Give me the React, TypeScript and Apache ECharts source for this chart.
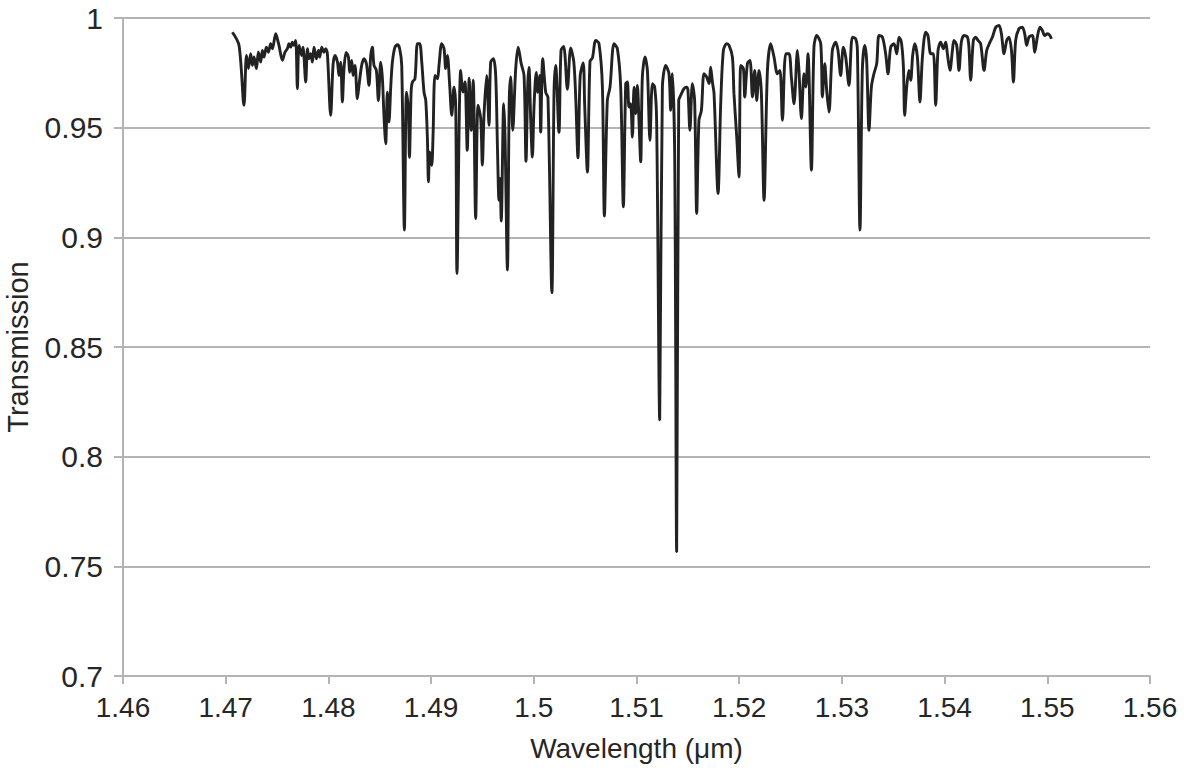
import React, { useEffect, useRef } from "react";
import * as echarts from "echarts";

// Wavelength (µm) sample positions
const wavelength: number[] = [
  1.47065, 1.4713, 1.47178, 1.47202, 1.47221, 1.47243, 1.4726, 1.47276, 1.47299, 1.47318,
  1.47341, 1.47357, 1.47373, 1.47396, 1.47416, 1.47438, 1.47455, 1.47487, 1.47503, 1.47519,
  1.47552, 1.47577, 1.47601, 1.47616, 1.47633, 1.47649, 1.47665, 1.47682, 1.47698, 1.47714,
  1.4774, 1.47753, 1.47779, 1.47796, 1.47811, 1.47828, 1.47844, 1.4786, 1.47883, 1.47903,
  1.47915, 1.47935, 1.47957, 1.47974, 1.4799, 1.48022, 1.48045, 1.48064, 1.48088, 1.48103,
  1.4812, 1.48136, 1.48152, 1.48173, 1.48195, 1.48207, 1.48227, 1.4824, 1.48259, 1.48282,
  1.48298, 1.48324, 1.48347, 1.4837, 1.48395, 1.48412, 1.48428, 1.48444, 1.48467, 1.48487,
  1.48509, 1.48526, 1.48541, 1.48558, 1.48574, 1.4859, 1.48607, 1.48623, 1.48648, 1.48672,
  1.48694, 1.48714, 1.4874, 1.4876, 1.48779, 1.48789, 1.48806, 1.48818, 1.48843, 1.48867,
  1.48889, 1.48909, 1.48931, 1.48948, 1.48964, 1.48974, 1.48987, 1.49006, 1.49019, 1.49038,
  1.49062, 1.49077, 1.49103, 1.49126, 1.49142, 1.49159, 1.49181, 1.49201, 1.49223, 1.4924,
  1.49252, 1.49288, 1.49311, 1.4933, 1.49352, 1.49371, 1.49391, 1.4941, 1.49434, 1.49457,
  1.49483, 1.49499, 1.49515, 1.49541, 1.49564, 1.4958, 1.49607, 1.49629, 1.49646, 1.49661,
  1.49671, 1.49683, 1.49707, 1.4972, 1.49743, 1.49761, 1.49775, 1.49795, 1.49824, 1.49848,
  1.49877, 1.49905, 1.49924, 1.49941, 1.49953, 1.4997, 1.49986, 1.50002, 1.50023, 1.50038,
  1.50057, 1.50067, 1.50087, 1.50116, 1.50138, 1.50176, 1.50197, 1.50213, 1.50245, 1.50265,
  1.50291, 1.50327, 1.50359, 1.50389, 1.50408, 1.5043, 1.50452, 1.50481, 1.50495, 1.50522,
  1.50547, 1.50571, 1.50603, 1.50635, 1.50668, 1.50687, 1.50716, 1.50742, 1.50781, 1.50814,
  1.50846, 1.50872, 1.50895, 1.50911, 1.50927, 1.50943, 1.5096, 1.50976, 1.50992, 1.51009,
  1.51024, 1.51041, 1.51057, 1.51083, 1.51106, 1.51131, 1.51155, 1.51177, 1.51196, 1.51226,
  1.51252, 1.51284, 1.51316, 1.51333, 1.51349, 1.51372, 1.51391, 1.51411, 1.5143, 1.51462,
  1.51488, 1.51501, 1.5152, 1.51544, 1.51566, 1.51586, 1.51608, 1.51632, 1.51657, 1.51683,
  1.51706, 1.51722, 1.51739, 1.51755, 1.51794, 1.5182, 1.51846, 1.51878, 1.51901, 1.51934,
  1.51949, 1.51976, 1.51998, 1.52015, 1.52041, 1.52054, 1.5208, 1.52105, 1.52129, 1.52151,
  1.52171, 1.52193, 1.52216, 1.52242, 1.52275, 1.52307, 1.52339, 1.52372, 1.52397, 1.52421,
  1.52453, 1.52485, 1.52508, 1.52534, 1.52567, 1.52582, 1.52606, 1.52631, 1.52648, 1.5267,
  1.52703, 1.52728, 1.52755, 1.52794, 1.5281, 1.52833, 1.52852, 1.52874, 1.52907, 1.52939,
  1.52962, 1.52988, 1.53014, 1.53037, 1.53069, 1.53102, 1.53134, 1.53151, 1.53176, 1.53199,
  1.53222, 1.53241, 1.53264, 1.53287, 1.53312, 1.53339, 1.53361, 1.53394, 1.53426, 1.53449,
  1.53475, 1.53507, 1.53534, 1.53556, 1.53579, 1.53599, 1.53611, 1.53631, 1.53653, 1.5367,
  1.53689, 1.53709, 1.53735, 1.5376, 1.53784, 1.53816, 1.53838, 1.53865, 1.53891, 1.53913,
  1.53936, 1.53962, 1.53988, 1.54011, 1.54027, 1.54052, 1.54076, 1.54091, 1.54118, 1.5414,
  1.54163, 1.54189, 1.54222, 1.54237, 1.54254, 1.5428, 1.54303, 1.54325, 1.54351, 1.54384,
  1.5441, 1.54442, 1.54466, 1.54498, 1.5453, 1.54553, 1.54579, 1.54605, 1.54627, 1.54651,
  1.5467, 1.54692, 1.54724, 1.54757, 1.5478, 1.54799, 1.54822, 1.54855, 1.54877, 1.54903,
  1.54929, 1.54952, 1.54975, 1.55001, 1.55026, 1.5504,
];

// Transmission values at those wavelengths
const transmission: number[] = [
  0.9935, 0.9875, 0.9602, 0.9829, 0.977, 0.9837, 0.9784, 0.9822, 0.9769, 0.9844,
  0.9799, 0.9852, 0.9822, 0.9867, 0.9844, 0.9883, 0.986, 0.9928, 0.9905, 0.9875,
  0.9807, 0.9844, 0.986, 0.9883, 0.9867, 0.989, 0.9875, 0.9898, 0.9678, 0.9875,
  0.9829, 0.9867, 0.9708, 0.986, 0.9814, 0.9837, 0.9799, 0.9867, 0.9814, 0.9852,
  0.9822, 0.9867, 0.9844, 0.986, 0.9837, 0.9556, 0.9784, 0.9829, 0.9799, 0.9738,
  0.9799, 0.9617, 0.9769, 0.9843, 0.9822, 0.9753, 0.9807, 0.9738, 0.9784, 0.9632,
  0.9693, 0.9784, 0.9814, 0.9791, 0.9693, 0.9829, 0.9867, 0.9784, 0.9761, 0.9624,
  0.9799, 0.9723, 0.9556, 0.9427, 0.9662, 0.9526, 0.9685, 0.9799, 0.9867, 0.9878,
  0.986, 0.9784, 0.9033, 0.9662, 0.9571, 0.9365, 0.967, 0.9708, 0.9723, 0.9883,
  0.9883, 0.9799, 0.9662, 0.9624, 0.945, 0.9253, 0.9389, 0.9328, 0.9465, 0.9738,
  0.9723, 0.9784, 0.9883, 0.986, 0.9769, 0.9829, 0.9693, 0.9556, 0.9685, 0.9587,
  0.8835, 0.9761, 0.9662, 0.9708, 0.9397, 0.9725, 0.9488, 0.9716, 0.9086, 0.9602,
  0.9543, 0.9329, 0.9556, 0.9738, 0.9511, 0.9798, 0.9814, 0.9738, 0.9412, 0.9169,
  0.9269, 0.9074, 0.9609, 0.9457, 0.8851, 0.9625, 0.9731, 0.9488, 0.977, 0.9867,
  0.9793, 0.9738, 0.9347, 0.9693, 0.9775, 0.9534, 0.9366, 0.9594, 0.9752, 0.9661,
  0.9738, 0.948, 0.9814, 0.9661, 0.9638, 0.8748, 0.9662, 0.9784, 0.9479, 0.9852,
  0.987, 0.9675, 0.9863, 0.9802, 0.964, 0.9363, 0.9738, 0.9795, 0.9609, 0.9298,
  0.9802, 0.9818, 0.9898, 0.9883, 0.9685, 0.9097, 0.9624, 0.9685, 0.9883, 0.986,
  0.9685, 0.9139, 0.9701, 0.9708, 0.9594, 0.9609, 0.9457, 0.9685, 0.9564, 0.9693,
  0.9534, 0.9344, 0.9731, 0.9822, 0.9761, 0.9442, 0.97, 0.9685, 0.9534, 0.8168,
  0.9685, 0.9784, 0.9746, 0.9579, 0.9746, 0.9366, 0.7567, 0.9624, 0.9647, 0.9678,
  0.9685, 0.967, 0.9488, 0.9701, 0.9624, 0.9109, 0.9534, 0.9579, 0.9746, 0.9731,
  0.9701, 0.9776, 0.9708, 0.9655, 0.92, 0.9609, 0.9852, 0.9883, 0.9875, 0.9822,
  0.9655, 0.9457, 0.9275, 0.9784, 0.9769, 0.964, 0.9792, 0.9807, 0.964, 0.9761,
  0.9624, 0.9761, 0.9655, 0.9169, 0.9761, 0.9883, 0.9822, 0.9746, 0.9761, 0.9534,
  0.9837, 0.9837, 0.9731, 0.9609, 0.9852, 0.9761, 0.9541, 0.9746, 0.9685, 0.9837,
  0.9306, 0.9867, 0.992, 0.9883, 0.964, 0.9792, 0.967, 0.9571, 0.9852, 0.989,
  0.9852, 0.9738, 0.9867, 0.9822, 0.9693, 0.9913, 0.9905, 0.9852, 0.9033, 0.9761,
  0.9875, 0.9807, 0.9488, 0.9685, 0.9746, 0.9792, 0.992, 0.9913, 0.9837, 0.9746,
  0.9867, 0.9883, 0.9837, 0.9913, 0.989, 0.9776, 0.9556, 0.9685, 0.9761, 0.9716,
  0.9829, 0.9883, 0.9822, 0.9617, 0.9822, 0.9935, 0.992, 0.9837, 0.9837, 0.9602,
  0.9852, 0.989, 0.986, 0.989, 0.9837, 0.9761, 0.9852, 0.9898, 0.9875, 0.9761,
  0.989, 0.992, 0.9913, 0.9867, 0.9716, 0.9898, 0.9913, 0.9898, 0.9883, 0.9761,
  0.9852, 0.989, 0.9913, 0.9958, 0.9966, 0.9928, 0.9837, 0.9898, 0.9913, 0.9852,
  0.9708, 0.9898, 0.9951, 0.9958, 0.9928, 0.9875, 0.9913, 0.992, 0.9844, 0.9913,
  0.9958, 0.9943, 0.992, 0.9928, 0.992, 0.9905,
];

const xTicks = { min: 1.46, max: 1.56, step: 0.01 };
const yTicks = { min: 0.7, max: 1, step: 0.05 };

const FONT = "'Liberation Sans', Arial, Helvetica, sans-serif";

export default function App() {
  const ref = useRef<HTMLDivElement>(null);

  useEffect(() => {
    if (!ref.current) return;
    const chart = echarts.init(ref.current, undefined, { renderer: "svg" });
    const points = wavelength.map((w, i) => [w, transmission[i]]);
    chart.setOption({
      animation: false,
      backgroundColor: "#ffffff",
      grid: {
        left: 123,
        right: 34,
        top: 18,
        bottom: 96,
        containLabel: false,
        outerBoundsMode: "none",
      },
      xAxis: {
        type: "value",
        min: xTicks.min,
        max: xTicks.max,
        interval: xTicks.step,
        name: "Wavelength (μm)",
        nameLocation: "middle",
        nameGap: 58,
        nameTextStyle: { fontFamily: FONT, fontSize: 28, color: "#262626" },
        axisLine: { show: true, lineStyle: { color: "#b4b4b4", width: 2 } },
        axisTick: { show: true, length: 8, lineStyle: { color: "#b4b4b4", width: 2 } },
        axisLabel: {
          fontFamily: FONT,
          fontSize: 28,
          color: "#262626",
          margin: 17,
          formatter: (v: number) => String(parseFloat(v.toFixed(2))),
        },
        splitLine: { show: false },
      },
      yAxis: {
        type: "value",
        min: yTicks.min,
        max: yTicks.max,
        interval: yTicks.step,
        name: "Transmission",
        nameLocation: "middle",
        nameGap: 91,
        nameTextStyle: { fontFamily: FONT, fontSize: 29, color: "#262626" },
        axisLine: { show: true, lineStyle: { color: "#b4b4b4", width: 2 } },
        axisTick: { show: true, length: 9, lineStyle: { color: "#b4b4b4", width: 2 } },
        axisLabel: {
          fontFamily: FONT,
          fontSize: 30,
          color: "#262626",
          margin: 20,
          formatter: (v: number) => String(parseFloat(v.toFixed(2))),
        },
        splitLine: { show: true, lineStyle: { color: "#b4b4b4", width: 2 } },
      },
      series: [
        {
          type: "line",
          data: points,
          showSymbol: false,
          symbol: "none",
          smooth: 0.3,
          lineStyle: { color: "#222222", width: 2.9 },
        },
      ],
    });
    return () => chart.dispose();
  }, []);

  return (
    <div
      ref={ref}
      style={{ position: "fixed", left: 0, top: 0, width: 1184, height: 772, background: "#fff" }}
    />
  );
}
